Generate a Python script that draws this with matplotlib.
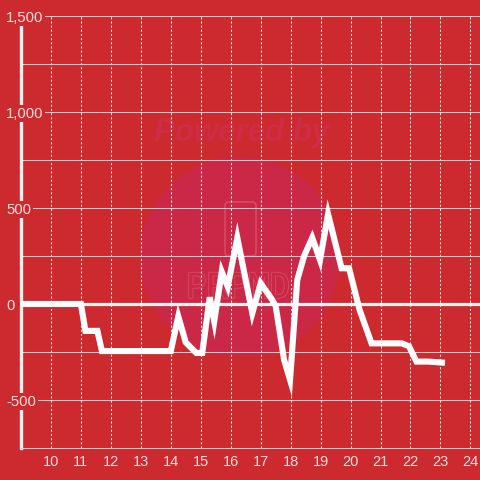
import matplotlib
matplotlib.use("Agg")
from matplotlib import pyplot as plt
from matplotlib.patches import Circle, FancyBboxPatch
from matplotlib.ticker import FuncFormatter
import matplotlib.patheffects as pe

# Hour of day and value
hours = [9.0, 11.0, 11.15, 11.55, 11.7, 14.0, 14.25, 14.5, 14.85, 15.05,
         15.3, 15.45, 15.7, 15.9, 16.22, 16.72, 17.0, 17.35, 17.5, 17.78,
         17.98, 18.22, 18.45, 18.72, 18.98, 19.25, 19.7, 19.95, 20.3, 20.7,
         21.7, 21.95, 22.2, 22.6, 23.05]
values = [0, 0, -140, -140, -245, -245, -65, -200, -255, -255,
          35, -90, 168, 90, 345, -48, 108, 30, -10, -290,
          -395, 125, 250, 345, 229, 468, 186, 186, -30, -205,
          -205, -220, -300, -300, -305]

xticks = list(range(10, 25))
yticks = [-500, 0, 500, 1000, 1500]
yminor = [-250, 250, 750, 1250]

bg = "#cc2a2f"
grid_col = "#d2d2d2"
text_col = "#f3dede"

plt.rcParams["font.family"] = ["Liberation Sans", "DejaVu Sans"]

fig = plt.figure(figsize=(4.8, 4.8), dpi=100, facecolor=bg)
ax = fig.add_axes([21 / 480, 32 / 480, 1 - 21 / 480, (448 - 16) / 480])
ax.set_zorder(1)
ax.patch.set_alpha(0)

# watermark behind the plot
fig.patches.append(Circle((240 / 480, 1 - 257 / 480), 100 / 480, transform=fig.transFigure,
                          facecolor="#cb2848", edgecolor="none", zorder=-2))
fig.text(242 / 480, 1 - 133 / 480, "Powered by", ha="center", va="center",
         fontsize=22.5, fontweight="bold", fontstyle="italic", color="#cf2c47", zorder=-1)
fig.patches.append(FancyBboxPatch((225 / 480, 1 - 256 / 480), 31 / 480, 54 / 480,
                                  boxstyle="round,pad=0,rounding_size=0.008",
                                  transform=fig.transFigure, facecolor="none",
                                  edgecolor="#d64c62", lw=1.2, zorder=-1))
fig.text(238 / 480, 1 - 288 / 480, "PRPMD", ha="center", va="center", fontsize=25,
         family="DejaVu Sans Mono", color="#cb2848", zorder=-1,
         path_effects=[pe.withStroke(linewidth=1.2, foreground="#d64c62")])

ax.set_xlim(9, 24.32)
ax.set_ylim(-750, 1500)

# grid
ax.set_xticks(xticks)
ax.set_yticks(yticks)
for x in xticks:
    ax.axvline(x, color="#eeeeee", lw=0.75, linestyle=(0, (2, 2)), zorder=1)
for y in yticks + yminor:
    ax.axhline(y, color=grid_col, lw=0.75, zorder=1)
ax.axhline(0, color="#f2f2f2", lw=2.3, zorder=2)

# data line
ax.plot(hours, values, color="white", lw=4.4, solid_joinstyle="miter", zorder=3)

# spines
for s in ["top", "right"]:
    ax.spines[s].set_visible(False)
ax.spines["left"].set_color("#f0f0f0")
ax.spines["left"].set_linewidth(2.4)
ax.spines["left"].set_bounds(-750, 1458)
ax.spines["bottom"].set_color(grid_col)
ax.spines["bottom"].set_linewidth(0.75)

ax.yaxis.set_major_formatter(FuncFormatter(lambda v, p: f"{int(v):,}"))
ax.yaxis.set_zorder(5)
ax.tick_params(axis="x", length=0, pad=5, labelsize=10.5, labelcolor=text_col)
ax.tick_params(axis="y", length=0, pad=10.8, labelsize=10.7, labelcolor=text_col)
for lab in ax.get_yticklabels():
    lab.set_horizontalalignment("left")
    lab.set_bbox(dict(facecolor=bg, edgecolor="none", pad=1.2))

fig.savefig("out.png", dpi=100, facecolor=bg)
